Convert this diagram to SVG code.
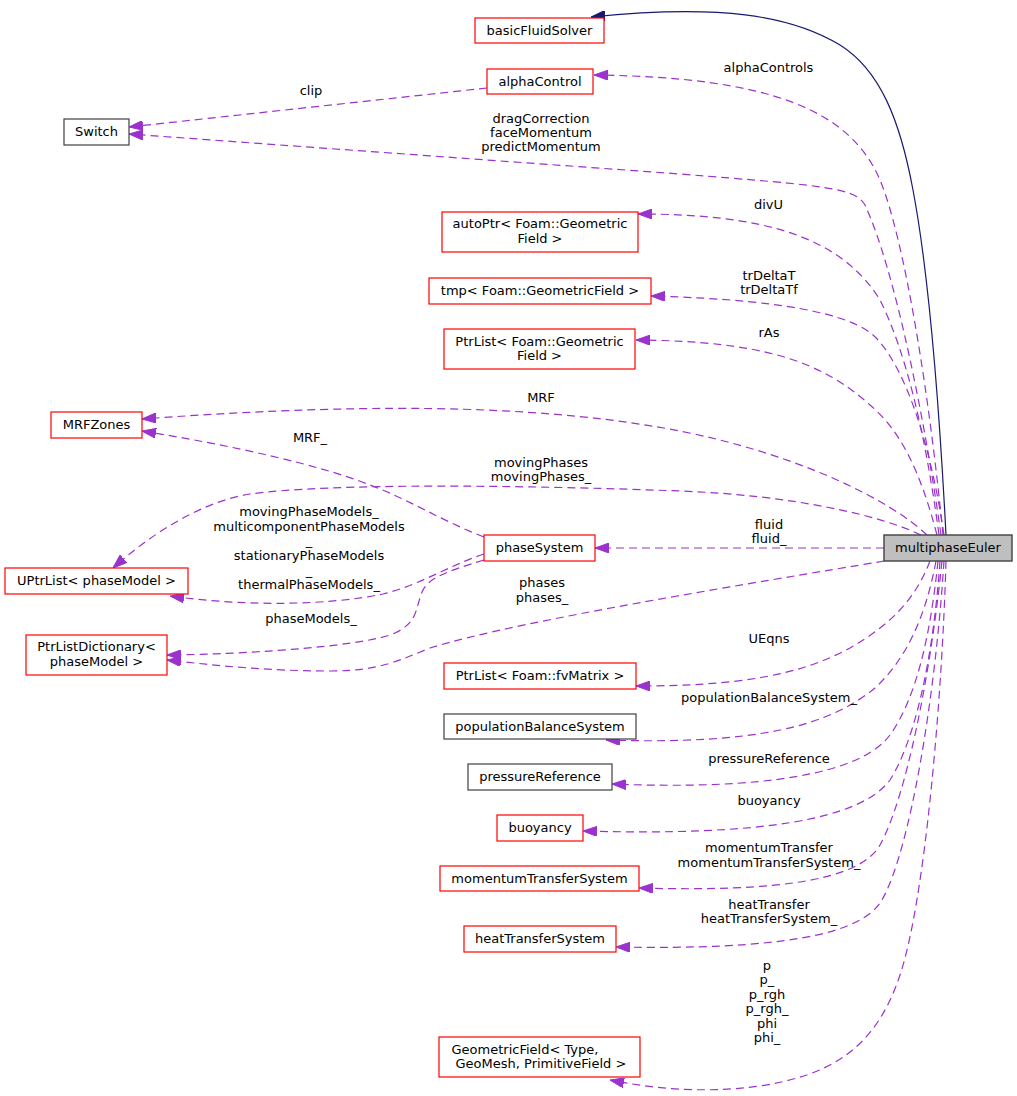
<svg xmlns="http://www.w3.org/2000/svg" width="1017" height="1096" viewBox="0 0 1017 1096">
<style>
text{font-family:"DejaVu Sans","Liberation Sans",sans-serif;font-size:13px;fill:#000}
.nl{text-anchor:middle}
.lb{text-anchor:middle}
.red{fill:#fff;stroke:#ff0000;stroke-width:1.2}
.blk{fill:#fff;stroke:#404040;stroke-width:1.2}
.cur{fill:#bfbfbf;stroke:#404040;stroke-width:1.4}
.e{fill:none;stroke:#9a32cd;stroke-width:1.2;stroke-dasharray:8,5;marker-end:url(#pa)}
.inh{fill:none;stroke:#191970;stroke-width:1.2;marker-end:url(#na)}
</style>
<defs>
<marker id="pa" markerUnits="userSpaceOnUse" viewBox="0 0 14 10" refX="14" refY="5" markerWidth="14" markerHeight="10" orient="auto"><path d="M0,0 L14,5 L0,10 z" fill="#9a32cd" stroke="#9a32cd" stroke-width="1"/></marker>
<marker id="na" markerUnits="userSpaceOnUse" viewBox="0 0 14 10" refX="14" refY="5" markerWidth="14" markerHeight="10" orient="auto"><path d="M0,0 L14,5 L0,10 z" fill="#191970" stroke="#191970" stroke-width="1"/></marker>
</defs>
<rect width="1017" height="1096" fill="#fff"/>
<g id="edges">
<path class="inh" d="M946,535 C940,420 930,280 913,190 C900,120 880,70 840,45 C790,15 720,4 591,17"/>
<path class="e" d="M943,535 C930,400 905,240 880,180 C850,110 770,77 594,75"/>
<path class="e" d="M487,88 L129,127"/>
<path class="e" d="M941,535 C925,420 895,270 865,205 C855,188 830,186 680,174 L129,134"/>
<path class="e" d="M939,535 C925,430 905,350 880,300 C840,235 760,214 638,214"/>
<path class="e" d="M944,535 C930,440 905,370 878,340 C860,318 800,300 651,296"/>
<path class="e" d="M937,535 C920,470 900,430 870,405 C820,360 760,341 636,340"/>
<path class="e" d="M927,535 C890,500 800,455 680,431 C560,408 400,400 142,419"/>
<path class="e" d="M484,537 C440,520 410,500 370,485 C320,465 230,445 142,431"/>
<path class="e" d="M921,535 C880,515 790,495 680,491 C520,485 330,483 250,494 C200,502 150,535 113,568"/>
<path class="e" d="M484,554 C450,565 420,585 383,594 C330,605 250,607 170,596"/>
<path class="e" d="M484,560 C445,572 428,578 422,592 C415,610 418,622 395,633 C370,645 260,654 167,655"/>
<path class="e" d="M884,561 C760,582 520,620 430,648 C400,660 380,671 330,671 C270,671 220,666 167,660"/>
<path class="e" d="M884,548 L595,548"/>
<path class="e" d="M930,561 C915,600 890,625 850,648 C800,675 740,686 636,686"/>
<path class="e" d="M936,561 C925,620 905,660 875,688 C830,725 760,745 606,740"/>
<path class="e" d="M938,561 C930,640 915,700 890,735 C860,775 760,790 612,784"/>
<path class="e" d="M940,561 C933,660 915,740 890,780 C860,820 760,836 583,831"/>
<path class="e" d="M942,561 C930,680 905,800 880,845 C860,880 780,892 639,888"/>
<path class="e" d="M944,561 C935,700 910,850 882,900 C862,935 780,950 616,947"/>
<path class="e" d="M946,561 C942,700 925,900 900,975 C875,1050 830,1075 760,1086 C700,1094 650,1088 610,1080"/>
</g>
<g id="edge-labels">
<text class="lb" x="768.5" y="72">alphaControls</text>
<text class="lb" x="311" y="95">clip</text>
<text class="lb" x="541" y="123">dragCorrection</text>
<text class="lb" x="541" y="137">faceMomentum</text>
<text class="lb" x="541" y="151">predictMomentum</text>
<text class="lb" x="768.5" y="209">divU</text>
<text class="lb" x="769" y="280">trDeltaT</text>
<text class="lb" x="769" y="294">trDeltaTf</text>
<text class="lb" x="769" y="337">rAs</text>
<text class="lb" x="541" y="402">MRF</text>
<text class="lb" x="310" y="442">MRF_</text>
<text class="lb" x="541" y="467">movingPhases</text>
<text class="lb" x="541" y="481">movingPhases_</text>
<text class="lb" x="309" y="516">movingPhaseModels_</text>
<text class="lb" x="309" y="530.5">multicomponentPhaseModels</text>
<text class="lb" x="309" y="545">_</text>
<text class="lb" x="309" y="560">stationaryPhaseModels</text>
<text class="lb" x="309" y="574.5">_</text>
<text class="lb" x="309" y="589">thermalPhaseModels_</text>
<text class="lb" x="311" y="622.5">phaseModels_</text>
<text class="lb" x="769" y="529">fluid</text>
<text class="lb" x="769" y="543">fluid_</text>
<text class="lb" x="542" y="587">phases</text>
<text class="lb" x="542" y="602">phases_</text>
<text class="lb" x="769" y="643">UEqns</text>
<text class="lb" x="769" y="702">populationBalanceSystem_</text>
<text class="lb" x="769" y="763">pressureReference</text>
<text class="lb" x="769" y="805">buoyancy</text>
<text class="lb" x="769" y="852">momentumTransfer</text>
<text class="lb" x="769" y="867">momentumTransferSystem_</text>
<text class="lb" x="769" y="909">heatTransfer</text>
<text class="lb" x="769" y="923">heatTransferSystem_</text>
<text class="lb" x="767" y="969.5">p</text>
<text class="lb" x="767" y="984">p_</text>
<text class="lb" x="767" y="998.5">p_rgh</text>
<text class="lb" x="767" y="1013">p_rgh_</text>
<text class="lb" x="767" y="1027.5">phi</text>
<text class="lb" x="767" y="1042">phi_</text>
</g>
<g id="node-basicFluidSolver"><rect class="red" x="475" y="18" width="129" height="25"/><text class="nl" x="539.5" y="35">basicFluidSolver</text></g>
<g id="node-alphaControl"><rect class="red" x="487" y="69" width="106" height="25"/><text class="nl" x="540" y="86">alphaControl</text></g>
<g id="node-Switch"><rect class="blk" x="64" y="119" width="65" height="26"/><text class="nl" x="96.5" y="136">Switch</text></g>
<g id="node-autoPtr"><rect class="red" x="442" y="212" width="196" height="40"/><text class="nl" x="540" y="228">autoPtr&lt; Foam::Geometric</text><text class="nl" x="540" y="243">Field &gt;</text></g>
<g id="node-tmp"><rect class="red" x="429" y="278" width="222" height="26"/><text class="nl" x="540" y="295">tmp&lt; Foam::GeometricField &gt;</text></g>
<g id="node-PtrListGeometric"><rect class="red" x="444" y="329" width="191" height="40"/><text class="nl" x="539.5" y="345.5">PtrList&lt; Foam::Geometric</text><text class="nl" x="539.5" y="360">Field &gt;</text></g>
<g id="node-MRFZones"><rect class="red" x="51" y="412" width="91" height="26"/><text class="nl" x="96.5" y="429">MRFZones</text></g>
<g id="node-multiphaseEuler"><rect class="cur" x="884" y="535" width="128" height="26"/><text class="nl" x="948" y="552">multiphaseEuler</text></g>
<g id="node-phaseSystem"><rect class="red" x="484" y="535" width="111" height="26"/><text class="nl" x="539.5" y="552">phaseSystem</text></g>
<g id="node-UPtrList"><rect class="red" x="5" y="568" width="183" height="26"/><text class="nl" x="96.5" y="585">UPtrList&lt; phaseModel &gt;</text></g>
<g id="node-PtrListDictionary"><rect class="red" x="26" y="635" width="141" height="40"/><text class="nl" x="96.5" y="651">PtrListDictionary&lt;</text><text class="nl" x="96.5" y="665.5">phaseModel &gt;</text></g>
<g id="node-PtrListFvMatrix"><rect class="red" x="444" y="663" width="192" height="26"/><text class="nl" x="540" y="680">PtrList&lt; Foam::fvMatrix &gt;</text></g>
<g id="node-populationBalanceSystem"><rect class="blk" x="444" y="714" width="192" height="25"/><text class="nl" x="540" y="731">populationBalanceSystem</text></g>
<g id="node-pressureReference"><rect class="blk" x="468" y="764" width="144" height="26"/><text class="nl" x="540" y="781">pressureReference</text></g>
<g id="node-buoyancy"><rect class="red" x="497" y="815" width="86" height="26"/><text class="nl" x="540" y="832">buoyancy</text></g>
<g id="node-momentumTransferSystem"><rect class="red" x="440" y="866" width="199" height="25"/><text class="nl" x="539.5" y="883">momentumTransferSystem</text></g>
<g id="node-heatTransferSystem"><rect class="red" x="464" y="926" width="152" height="26"/><text class="nl" x="540" y="943">heatTransferSystem</text></g>
<g id="node-GeometricField"><rect class="red" x="439" y="1037" width="201" height="40"/><text x="451.5" y="1053.5">GeometricField&lt; Type,</text><text x="455.5" y="1067.5">GeoMesh, PrimitiveField &gt;</text></g>
</svg>
